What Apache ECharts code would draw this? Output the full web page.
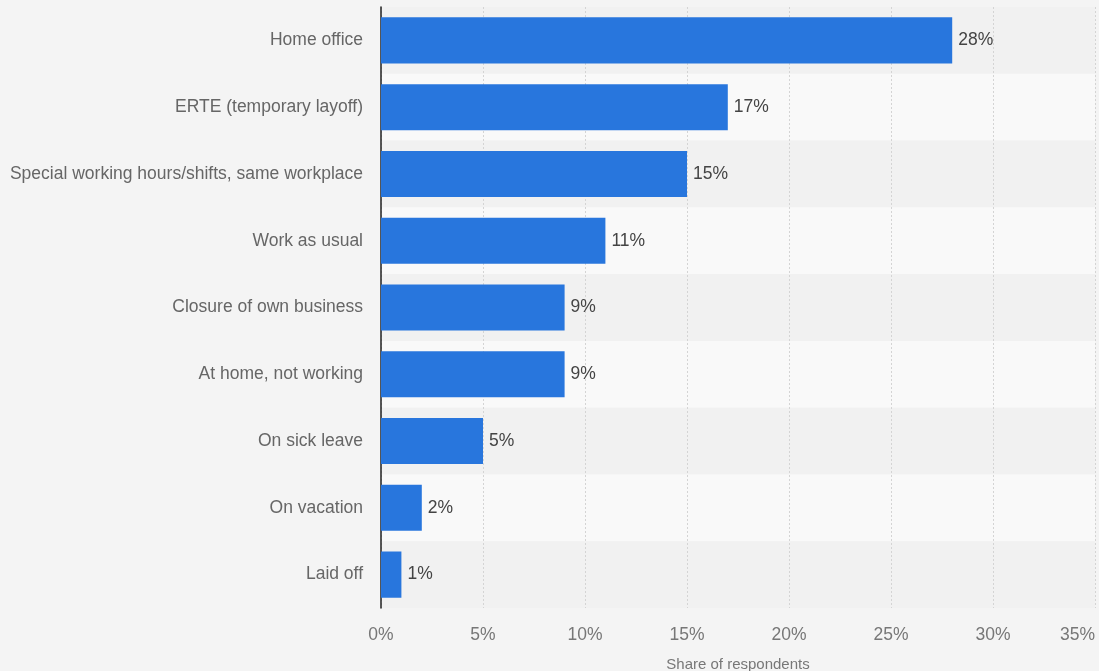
<!DOCTYPE html>
<html>
<head>
<meta charset="utf-8">
<script src="https://cdn.jsdelivr.net/npm/echarts@6/dist/echarts.min.js"></script>
<style>
html,body{margin:0;padding:0;background:#f4f4f4;}
#chart{width:1099px;height:671px;}
</style>
</head>
<body>
<div id="chart"></div>
<script>
const categories = [
  "Home office",
  "ERTE (temporary layoff)",
  "Special working hours/shifts, same workplace",
  "Work as usual",
  "Closure of own business",
  "At home, not working",
  "On sick leave",
  "On vacation",
  "Laid off"
];
const values = [28, 17, 15, 11, 9, 9, 5, 2, 1];
const xTicks = [0, 5, 10, 15, 20, 25, 30, 35];
const axisName = "Share of respondents";

const chart = echarts.init(document.getElementById('chart'), null, {renderer: 'canvas'});
chart.setOption({
  backgroundColor: '#f4f4f4',
  animation: false,
  grid: {left: 381, right: 4, top: 7, bottom: 63, containLabel: false, outerBoundsMode: 'none'},
  xAxis: {
    type: 'value',
    min: xTicks[0],
    max: xTicks[xTicks.length - 1],
    interval: 5,
    name: axisName,
    nameLocation: 'middle',
    nameGap: 49,
    nameTextStyle: {color: '#777', fontSize: 15, fontFamily: 'Liberation Sans'},
    axisLine: {show: false},
    axisTick: {show: false},
    axisLabel: {formatter: '{value}%', color: '#777', fontSize: 17.5, margin: 18, fontFamily: 'Liberation Sans', alignMaxLabel: 'right'},
    splitLine: {show: true, lineStyle: {color: '#d4d4d4', type: [2, 2], width: 1}}
  },
  yAxis: {
    type: 'category',
    data: categories,
    inverse: true,
    axisLine: {show: true, lineStyle: {color: '#222', width: 1.5}},
    axisTick: {show: false},
    axisLabel: {color: '#666', fontSize: 17.5, margin: 18, fontFamily: 'Liberation Sans'},
    splitArea: {show: true, areaStyle: {color: ['#f1f1f1', '#f9f9f9']}},
    splitLine: {show: false}
  },
  series: [{
    type: 'bar',
    data: values,
    barCategoryGap: '31%',
    itemStyle: {color: '#2876dd'},
    label: {
      show: true,
      position: 'right',
      distance: 6,
      formatter: '{c}%',
      color: '#444',
      fontSize: 17.5,
      fontFamily: 'Liberation Sans'
    }
  }]
});
</script>
</body>
</html>
